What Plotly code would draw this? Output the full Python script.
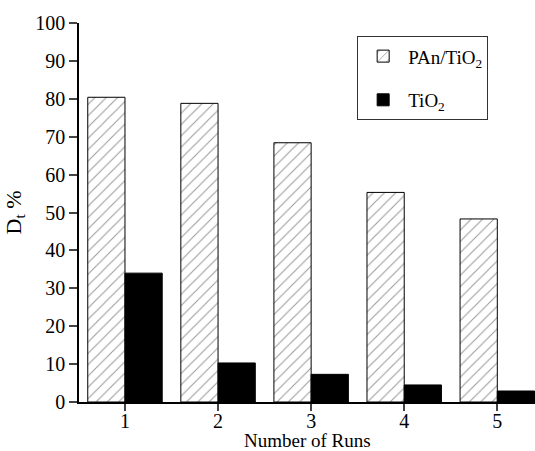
import plotly.graph_objects as go

runs = [1, 2, 3, 4, 5]
pan_tio2 = [80.4, 78.8, 68.4, 55.3, 48.3]
tio2 = [34.0, 10.3, 7.3, 4.5, 2.9]
y_ticks = [0, 10, 20, 30, 40, 50, 60, 70, 80, 90, 100]

FONT = "Liberation Serif, Times New Roman, serif"

fig = go.Figure()
fig.add_trace(go.Bar(
    x=runs, y=pan_tio2, name="PAn/TiO<sub>2</sub>",
    marker=dict(color="white", line=dict(color="black", width=1),
                pattern=dict(shape="/", fgcolor="#333333", bgcolor="white",
                             size=8, solidity=0.13)),
    legendgroup="a",
))
fig.add_trace(go.Bar(
    x=runs, y=tio2, name="TiO<sub>2</sub>",
    marker=dict(color="black", line=dict(color="black", width=1)),
    legendgroup="b",
))

fig.update_layout(
    width=535, height=451,
    margin=dict(l=79, r=0, t=23, b=49),
    paper_bgcolor="white", plot_bgcolor="white",
    barmode="group", bargap=0.2, bargroupgap=0,
    font=dict(family=FONT, size=20, color="black"),
    legend=dict(x=0.61, y=0.965, xanchor="left", yanchor="top",
                bordercolor="#333333", borderwidth=1, bgcolor="white",
                font=dict(family=FONT, size=19), tracegroupgap=16,
                traceorder="grouped", itemwidth=40),
    xaxis=dict(range=[0.506, 5.405], tickvals=runs, ticks="outside",
               ticklen=7, tickwidth=1.5, showline=True, linecolor="black",
               linewidth=1.5, showgrid=False, zeroline=False,
               automargin=False,
               tickfont=dict(family=FONT, size=20), ticklabelstandoff=-7),
    yaxis=dict(range=[0, 100], tickvals=y_ticks, ticks="outside",
               ticklen=8, tickwidth=1.5, showline=True, linecolor="black",
               linewidth=1.5, showgrid=False, zeroline=False,
               automargin=False,
               tickfont=dict(family=FONT, size=20),
               title=dict(text="D<sub>t</sub> %", standoff=8,
                          font=dict(family=FONT, size=22))),
    annotations=[dict(text="Number of Runs", xref="paper", yref="paper",
                      x=0.5, y=-0.101, xanchor="center", yanchor="middle",
                      borderpad=0, showarrow=False,
                      font=dict(family=FONT, size=19))],
)

fig.write_html("out.html")
